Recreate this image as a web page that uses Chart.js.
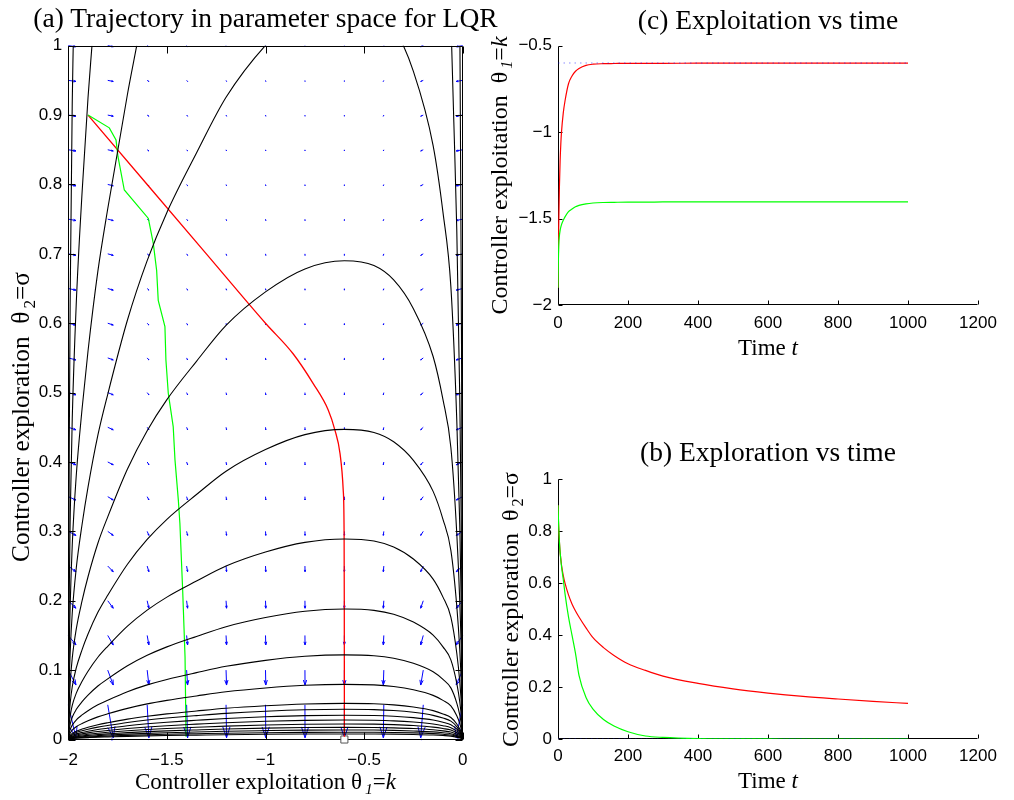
<!DOCTYPE html>
<html>
<head>
<meta charset="utf-8">
<title>LQR parameter trajectories</title>
<script src="https://cdn.jsdelivr.net/npm/chart.js@4.4.1/dist/chart.umd.min.js"></script>
<style>
  body { margin: 0; background: #fff; }
  #page { position: relative; width: 1014px; height: 800px; overflow: hidden;
          font-family: 'Liberation Serif', 'Times New Roman', serif; color: #000; }
  .box { position: absolute; }
  .ttl { position: absolute; font-size: 27.5px; line-height: 32px; white-space: nowrap; text-align: center; }
  .lbl { position: absolute; font-size: 23px; line-height: 26px; white-space: nowrap; text-align: center; }
  .lbl sub { font-size: 0.68em; line-height: 0; vertical-align: -0.32em; margin-left: 3px; }
  .rot { transform: rotate(-90deg); }
  .big { font-size: 25.3px; line-height: 28px; }
  .mid { font-size: 24px; line-height: 27px; }
</style>
</head>
<body>
<div id="page">
  <div class="box" style="left:0;top:0;width:480px;height:800px"><canvas id="chart-a"></canvas></div>
  <div class="box" style="left:480px;top:0;width:534px;height:340px"><canvas id="chart-c"></canvas></div>
  <div class="box" style="left:480px;top:440px;width:534px;height:340px"><canvas id="chart-b"></canvas></div>

  <div class="ttl" style="left:0;top:2px;width:531px">(a) Trajectory in parameter space for LQR</div>
  <div class="lbl" style="left:0;top:769.3px;width:531px">Controller exploitation θ<sub><i>1</i></sub>=<i>k</i></div>
  <div class="lbl big rot" style="left:-180px;top:402.5px;width:400px">Controller exploration&nbsp; θ<sub>2</sub>=σ</div>

  <div class="ttl" style="left:568px;top:4px;width:400px">(c) Exploitation vs time</div>
  <div class="lbl" style="left:568px;top:335.3px;width:400px">Time <i>t</i></div>
  <div class="lbl mid rot" style="left:298.9px;top:162px;width:400px">Controller exploitation&nbsp; θ<sub><i>1</i></sub>=<i>k</i></div>

  <div class="ttl" style="left:568px;top:436.4px;width:400px">(b) Exploration vs time</div>
  <div class="lbl" style="left:568px;top:767.6px;width:400px">Time <i>t</i></div>
  <div class="lbl mid rot" style="left:310.2px;top:595.5px;width:400px">Controller exploration&nbsp; θ<sub>2</sub>=σ</div>
</div>

<script>
/* ── cost contours in the (k, σ) plane, sampled on a shared k grid ── */
const CONTOUR_K = [-2, -1.995, -1.99, -1.98, -1.96, -1.93, -1.9, -1.85, -1.8, -1.7, -1.6, -1.5, -1.35, -1.2,
  -1.0, -0.8, -0.6, -0.45, -0.35, -0.25, -0.15, -0.1, -0.06, -0.03, -0.015, -0.006, 0];

const ARCH_107 = [0, 0.0856, 0.1284, 0.1819, 0.2461, 0.3103, 0.3638, 0.4387, 0.4976, 0.6046, 0.6902, 0.7597, 0.8453, 0.9256,
  1.0005, 1.0518, 1.07, 1.0593, 1.0272, 0.963, 0.856, 0.7597, 0.6527, 0.4601, 0.3103, 0.1712, 0];
const ARCH_069 = [0, 0.0552, 0.0828, 0.1173, 0.1587, 0.2001, 0.2346, 0.2829, 0.3209, 0.3899, 0.4451, 0.4899, 0.5451, 0.5969,
  0.6452, 0.6783, 0.69, 0.6831, 0.6624, 0.621, 0.552, 0.4899, 0.4209, 0.2967, 0.2001, 0.1104, 0];
const ARCH_0447 = [0, 0.0358, 0.0536, 0.076, 0.1028, 0.1296, 0.152, 0.1833, 0.2079, 0.2526, 0.2883, 0.3174, 0.3531, 0.3867,
  0.4179, 0.4394, 0.447, 0.4425, 0.4291, 0.4023, 0.3576, 0.3174, 0.2727, 0.1922, 0.1296, 0.0715, 0];
const ARCH_0289 = [0, 0.0231, 0.0347, 0.0491, 0.0665, 0.0838, 0.0983, 0.1185, 0.1344, 0.1633, 0.1864, 0.2052, 0.2283, 0.25,
  0.2702, 0.2841, 0.289, 0.2861, 0.2774, 0.2601, 0.2312, 0.2052, 0.1763, 0.1243, 0.0838, 0.0462, 0];
const ARCH_0188 = [0, 0.015, 0.0226, 0.032, 0.0432, 0.0545, 0.0639, 0.0771, 0.0874, 0.1062, 0.1213, 0.1335, 0.1485, 0.1626,
  0.1758, 0.1848, 0.188, 0.1861, 0.1805, 0.1692, 0.1504, 0.1335, 0.1147, 0.0808, 0.0545, 0.0301, 0];
const ARCH_0122 = [0, 0.0098, 0.0146, 0.0207, 0.0281, 0.0354, 0.0415, 0.05, 0.0567, 0.0689, 0.0787, 0.0866, 0.0964, 0.1055,
  0.1141, 0.1199, 0.122, 0.1208, 0.1171, 0.1098, 0.0976, 0.0866, 0.0744, 0.0525, 0.0354, 0.0195, 0];
const ARCH_0080 = [0, 0.0064, 0.0095, 0.0135, 0.0183, 0.0231, 0.027, 0.0326, 0.037, 0.0449, 0.0513, 0.0564, 0.0628, 0.0688,
  0.0743, 0.0781, 0.0795, 0.0787, 0.0763, 0.0716, 0.0636, 0.0564, 0.0485, 0.0342, 0.0231, 0.0127, 0];
const ARCH_0052 = [0, 0.0042, 0.0062, 0.0088, 0.012, 0.0151, 0.0177, 0.0213, 0.0242, 0.0294, 0.0335, 0.0369, 0.0411, 0.045,
  0.0486, 0.0511, 0.052, 0.0515, 0.0499, 0.0468, 0.0416, 0.0369, 0.0317, 0.0224, 0.0151, 0.0083, 0];
const ARCH_0044 = [0, 0.0035, 0.0052, 0.0074, 0.01, 0.0126, 0.0148, 0.0178, 0.0202, 0.0246, 0.0281, 0.0309, 0.0344, 0.0376,
  0.0407, 0.0428, 0.0435, 0.0431, 0.0418, 0.0392, 0.0348, 0.0309, 0.0265, 0.0187, 0.0126, 0.007, 0];
const ARCH_0035 = [0, 0.0028, 0.0042, 0.006, 0.0081, 0.0102, 0.0119, 0.0144, 0.0163, 0.0198, 0.0226, 0.0249, 0.0277, 0.0303,
  0.0327, 0.0344, 0.035, 0.0347, 0.0336, 0.0315, 0.028, 0.0249, 0.0214, 0.0151, 0.0102, 0.0056, 0];
const ARCH_0028 = [0, 0.0022, 0.0034, 0.0048, 0.0064, 0.0081, 0.0095, 0.0115, 0.013, 0.0158, 0.0181, 0.0199, 0.0221, 0.0242,
  0.0262, 0.0275, 0.028, 0.0277, 0.0269, 0.0252, 0.0224, 0.0199, 0.0171, 0.012, 0.0081, 0.0045, 0];
const ARCH_0022 = [0, 0.0018, 0.0027, 0.0038, 0.0051, 0.0065, 0.0076, 0.0091, 0.0104, 0.0126, 0.0144, 0.0158, 0.0176, 0.0193,
  0.0209, 0.0219, 0.0223, 0.0221, 0.0214, 0.0201, 0.0178, 0.0158, 0.0136, 0.0096, 0.0065, 0.0036, 0];
const ARCH_0018 = [0, 0.0014, 0.0021, 0.003, 0.004, 0.0051, 0.006, 0.0072, 0.0081, 0.0099, 0.0113, 0.0124, 0.0138, 0.0151,
  0.0164, 0.0172, 0.0175, 0.0173, 0.0168, 0.0158, 0.014, 0.0124, 0.0107, 0.0075, 0.0051, 0.0028, 0];
const ARCH_0014 = [0, 0.0011, 0.0016, 0.0023, 0.0032, 0.004, 0.0047, 0.0056, 0.0064, 0.0077, 0.0088, 0.0097, 0.0108, 0.0119,
  0.0128, 0.0135, 0.0137, 0.0136, 0.0132, 0.0123, 0.011, 0.0097, 0.0084, 0.0059, 0.004, 0.0022, 0];
const ARCH_0011 = [0, 0.0008, 0.0013, 0.0018, 0.0024, 0.003, 0.0036, 0.0043, 0.0049, 0.0059, 0.0068, 0.0075, 0.0083, 0.0091,
  0.0098, 0.0103, 0.0105, 0.0104, 0.0101, 0.0095, 0.0084, 0.0075, 0.0064, 0.0045, 0.003, 0.0017, 0];
const ARCH_0008 = [0, 0.0006, 0.001, 0.0014, 0.0018, 0.0023, 0.0027, 0.0033, 0.0037, 0.0045, 0.0052, 0.0057, 0.0063, 0.0069,
  0.0075, 0.0079, 0.008, 0.0079, 0.0077, 0.0072, 0.0064, 0.0057, 0.0049, 0.0034, 0.0023, 0.0013, 0];

// higher levels only show up as steep branches near the stability edges
const BRANCH_L2 = [[-2, 0], [-1.995, 0.132], [-1.99, 0.198], [-1.98, 0.28], [-1.96, 0.379], [-1.93, 0.477], [-1.9, 0.56],
  [-1.85, 0.675], [-1.8, 0.765], [-1.7, 0.93], [-1.653, 1.0]];
const BRANCH_L3 = [[-2, 0], [-1.995, 0.218], [-1.99, 0.326], [-1.98, 0.462], [-1.96, 0.626], [-1.93, 0.789], [-1.9, 0.925], [-1.88, 1.0]];
const BRANCH_L4 = [[-2, 0], [-1.995, 0.432], [-1.99, 0.648], [-1.98, 0.918], [-1.975, 1.0]];
const BRANCH_R2 = [[-0.056, 1.0], [-0.045, 0.89], [-0.03, 0.734], [-0.015, 0.495], [-0.006, 0.273], [0, 0]];
const BRANCH_R3 = [[-0.014, 1.0], [-0.006, 0.571], [0, 0]];

/* ── update field (quiver) ── */
const QUIVER_K = [-2, -1.8, -1.6, -1.4, -1.2, -1, -0.8, -0.6, -0.4, -0.2, 0];
const QUIVER_SIGMA = [0, 0.05, 0.1, 0.15, 0.2, 0.25, 0.3, 0.35, 0.4, 0.45, 0.5, 0.55, 0.6, 0.65, 0.7, 0.75, 0.8, 0.85, 0.9, 0.95, 1];
const ARROW_DK = [0.039, 0.028, 0.0086, 0.005, 0.0025, 0.0015, 0.0005, 0, -0.0025, -0.013, -0.033];
const ARROW_DSIGMA = [0, -0.0475, -0.0215, -0.0137, -0.0108, -0.0082, -0.0058, -0.0048, -0.004, -0.0036, -0.0032,
  -0.0029, -0.0026, -0.0023, -0.0022, -0.002, -0.0019, -0.0017, -0.0016, -0.0015, -0.0014];

/* ── learning trajectories in parameter space ── */
const GREEN_PATH_K = [-1.9, -1.792, -1.758, -1.748, -1.716, -1.594, -1.569, -1.552, -1.544, -1.51, -1.505, -1.493, -1.468,
  -1.459, -1.442, -1.434, -1.42, -1.408, -1.403];
const GREEN_PATH_SIGMA = [0.9, 0.8816, 0.864, 0.84, 0.792, 0.751, 0.715, 0.676, 0.633, 0.595, 0.547, 0.499, 0.451,
  0.403, 0.345, 0.311, 0.215, 0.119, 0.004];
const RED_PATH_K = [-1.9, -1.6, -1.3, -1.0, -0.86, -0.758, -0.682, -0.648, -0.622, -0.606, -0.6015, -0.6005, -0.6];
const RED_PATH_SIGMA = [0.9, 0.8, 0.7, 0.6, 0.556, 0.513, 0.475, 0.446, 0.412, 0.36, 0.3, 0.2, 0.004];
const OPT_K = -0.6;
const OPT_SIGMA = 0;

/* ── same runs against time ── */
const TIME = [0, 1, 2, 4, 6, 8, 10, 15, 20, 30, 40, 50, 60, 80, 100, 130, 160, 200, 250, 300, 400, 500, 600, 700, 800, 900, 1000];
const RED_K = [-1.9, -1.75, -1.55, -1.32, -1.17, -1.07, -1.0, -0.89, -0.82, -0.72, -0.675, -0.648, -0.632, -0.614, -0.607,
  -0.604, -0.603, -0.602, -0.602, -0.602, -0.601, -0.601, -0.601, -0.601, -0.601, -0.601, -0.601];
const GREEN_K = [-1.9, -1.75, -1.66, -1.6, -1.57, -1.55, -1.535, -1.51, -1.49, -1.46, -1.445, -1.432, -1.424, -1.415, -1.41,
  -1.407, -1.406, -1.405, -1.405, -1.404, -1.404, -1.404, -1.404, -1.404, -1.404, -1.404, -1.404];
const RED_SIGMA = [0.9, 0.85, 0.81, 0.76, 0.72, 0.695, 0.67, 0.63, 0.6, 0.555, 0.52, 0.493, 0.47, 0.428, 0.39, 0.352, 0.322,
  0.29, 0.264, 0.242, 0.214, 0.193, 0.177, 0.164, 0.154, 0.145, 0.137];
const GREEN_SIGMA = [0.9, 0.86, 0.82, 0.76, 0.72, 0.69, 0.665, 0.615, 0.56, 0.47, 0.4, 0.33, 0.245, 0.16, 0.115, 0.075, 0.05,
  0.028, 0.0115, 0.006, 0.0013, 0.0003, 0.0001, 0, 0, 0, 0];

(function () {

  const TICK_FONT = { family: "'Liberation Sans', Arial, sans-serif", size: 17 };
  const RED = '#ff0000', GREEN = '#00ff00', BLUE = '#0000ff';

  function fmt(v) {
    return String(Math.round(v * 100) / 100).replace('-', '\u2212');
  }
  function xy(xs, ys) {
    return xs.map(function (x, i) { return { x: x, y: ys[i] }; });
  }
  function pairs(list) {
    return list.map(function (p) { return { x: p[0], y: p[1] }; });
  }
  function line(data, color, width, extra) {
    return Object.assign({ data: data, borderColor: color, borderWidth: width, pointRadius: 0, fill: false, tension: 0 }, extra || {});
  }

  /* MATLAB-like axes: frame with inward tick marks */
  const framePlugin = {
    id: 'frame',
    beforeDatasetsDraw: function (chart, args, opts) {
      const ctx = chart.ctx, a = chart.chartArea, xs = chart.scales.x, ys = chart.scales.y;
      const L = opts.tick || 4;
      const l = Math.round(a.left) + 0.5, r = Math.round(a.right) - 0.5;
      const t = Math.round(a.top) + 0.5, b = Math.round(a.bottom) - 0.5;
      ctx.save();
      ctx.strokeStyle = '#000';
      ctx.lineWidth = 1;
      ctx.beginPath();
      if (opts.box) {
        ctx.rect(l, t, r - l, b - t);
      } else {
        ctx.moveTo(l, t); ctx.lineTo(l, b); ctx.lineTo(r, b);
      }
      xs.ticks.forEach(function (tk) {
        const px = Math.round(xs.getPixelForValue(tk.value)) + 0.5;
        ctx.moveTo(px, b); ctx.lineTo(px, b - L);
        if (opts.box) { ctx.moveTo(px, t); ctx.lineTo(px, t + L); }
      });
      ys.ticks.forEach(function (tk) {
        const py = Math.round(ys.getPixelForValue(tk.value)) + 0.5;
        ctx.moveTo(l, py); ctx.lineTo(l + L, py);
        if (opts.box) { ctx.moveTo(r, py); ctx.lineTo(r - L, py); }
      });
      ctx.stroke();
      ctx.restore();
    }
  };

  /* quiver arrows, heads shaped like MATLAB's quiver */
  const quiverPlugin = {
    id: 'quiver',
    beforeDatasetsDraw: function (chart) {
      const ctx = chart.ctx, xs = chart.scales.x, ys = chart.scales.y;
      const alpha = 0.33, beta = 0.33;
      ctx.save();
      ctx.strokeStyle = BLUE;
      ctx.lineWidth = 1;
      ctx.beginPath();
      QUIVER_K.forEach(function (k, i) {
        QUIVER_SIGMA.forEach(function (s, j) {
          const x0 = xs.getPixelForValue(k), y0 = ys.getPixelForValue(s);
          const x1 = xs.getPixelForValue(k + ARROW_DK[i]), y1 = ys.getPixelForValue(s + ARROW_DSIGMA[j]);
          const u = x1 - x0, v = y1 - y0;
          ctx.moveTo(x0, y0); ctx.lineTo(x1, y1);
          ctx.moveTo(x1 - alpha * (u + beta * v), y1 - alpha * (v - beta * u));
          ctx.lineTo(x1, y1);
          ctx.lineTo(x1 - alpha * (u - beta * v), y1 - alpha * (v + beta * u));
        });
      });
      ctx.stroke();
      ctx.restore();
    }
  };

  function axes(xMin, xMax, xStep, yMin, yMax, yStep, yWidth, xHeight, xPad) {
    return {
      x: {
        type: 'linear', min: xMin, max: xMax,
        ticks: { stepSize: xStep, font: TICK_FONT, color: '#000', padding: xPad, maxRotation: 0, callback: fmt },
        grid: { display: false, drawTicks: false }, border: { display: false },
        afterFit: function (s) { s.height = xHeight; }
      },
      y: {
        type: 'linear', min: yMin, max: yMax,
        ticks: { stepSize: yStep, font: TICK_FONT, color: '#000', padding: 6, callback: fmt },
        grid: { display: false, drawTicks: false }, border: { display: false },
        afterFit: function (s) { s.width = yWidth; }
      }
    };
  }

  function baseOptions(padding, scales, frame) {
    return {
      responsive: true, maintainAspectRatio: false, animation: false, events: [],
      layout: { padding: padding },
      plugins: { legend: { display: false }, tooltip: { enabled: false }, title: { display: false }, frame: frame },
      scales: scales
    };
  }

  /* ════ (a) parameter space ════ */
  const arches = [ARCH_107, ARCH_069, ARCH_0447, ARCH_0289, ARCH_0188, ARCH_0122, ARCH_0080, ARCH_0052, ARCH_0044,
    ARCH_0035, ARCH_0028, ARCH_0022, ARCH_0018, ARCH_0014, ARCH_0011, ARCH_0008];
  const branches = [BRANCH_L2, BRANCH_L3, BRANCH_L4, BRANCH_R2, BRANCH_R3];
  const contourSets = arches.map(function (lv) {
    return line(xy(CONTOUR_K, lv), '#000', 1.1, { cubicInterpolationMode: 'monotone' });
  }).concat(branches.map(function (br) {
    return line(pairs(br), '#000', 1.1, { cubicInterpolationMode: 'monotone' });
  }));

  new Chart(document.getElementById('chart-a'), {
    type: 'line',
    data: {
      datasets: contourSets.concat([
        line(xy(GREEN_PATH_K, GREEN_PATH_SIGMA), GREEN, 1.2),
        line(xy(RED_PATH_K, RED_PATH_SIGMA), RED, 1.3, { cubicInterpolationMode: 'monotone' }),
        { data: [{ x: OPT_K, y: OPT_SIGMA }], showLine: false, pointStyle: 'rect', pointRadius: 5,
          pointBorderColor: '#555', pointBackgroundColor: '#fff', pointBorderWidth: 1, clip: false }
      ])
    },
    options: baseOptions({ top: 45.7, right: 17.3, left: 0, bottom: 0 },
      axes(-2, 0, 0.5, 0, 1, 0.1, 68.3, 60.5, 10.3), { box: true, tick: 7 }),
    plugins: [quiverPlugin, framePlugin]
  });

  /* ════ (c) exploitation vs time ════ */
  new Chart(document.getElementById('chart-c'), {
    type: 'line',
    data: {
      datasets: [
        line([{ x: 0, y: OPT_K }, { x: 1000, y: OPT_K }], 'rgba(0,0,255,0.45)', 1, { borderDash: [1.5, 4] }),
        line(xy(TIME, GREEN_K), GREEN, 1.2, { cubicInterpolationMode: 'monotone' }),
        line(xy(TIME, RED_K), RED, 1.2, { cubicInterpolationMode: 'monotone' })
      ]
    },
    options: baseOptions({ top: 45.7, right: 36, left: 0, bottom: 0 },
      axes(0, 1200, 200, -2, -0.5, 0.5, 78, 35, 8.1), { box: false, tick: 4 }),
    plugins: [framePlugin]
  });

  /* ════ (b) exploration vs time ════ */
  new Chart(document.getElementById('chart-b'), {
    type: 'line',
    data: {
      datasets: [
        line([{ x: 0, y: OPT_SIGMA }, { x: 1000, y: OPT_SIGMA }], 'rgba(0,0,255,0.45)', 1, { borderDash: [1.5, 4] }),
        line(xy(TIME, GREEN_SIGMA), GREEN, 1.2, { cubicInterpolationMode: 'monotone' }),
        line(xy(TIME, RED_SIGMA), RED, 1.2, { cubicInterpolationMode: 'monotone' })
      ]
    },
    options: baseOptions({ top: 39.3, right: 36, left: 0, bottom: 0 },
      axes(0, 1200, 200, 0, 1, 0.2, 78, 41, 7.5), { box: false, tick: 4 }),
    plugins: [framePlugin]
  });

})();
</script>
</body>
</html>
